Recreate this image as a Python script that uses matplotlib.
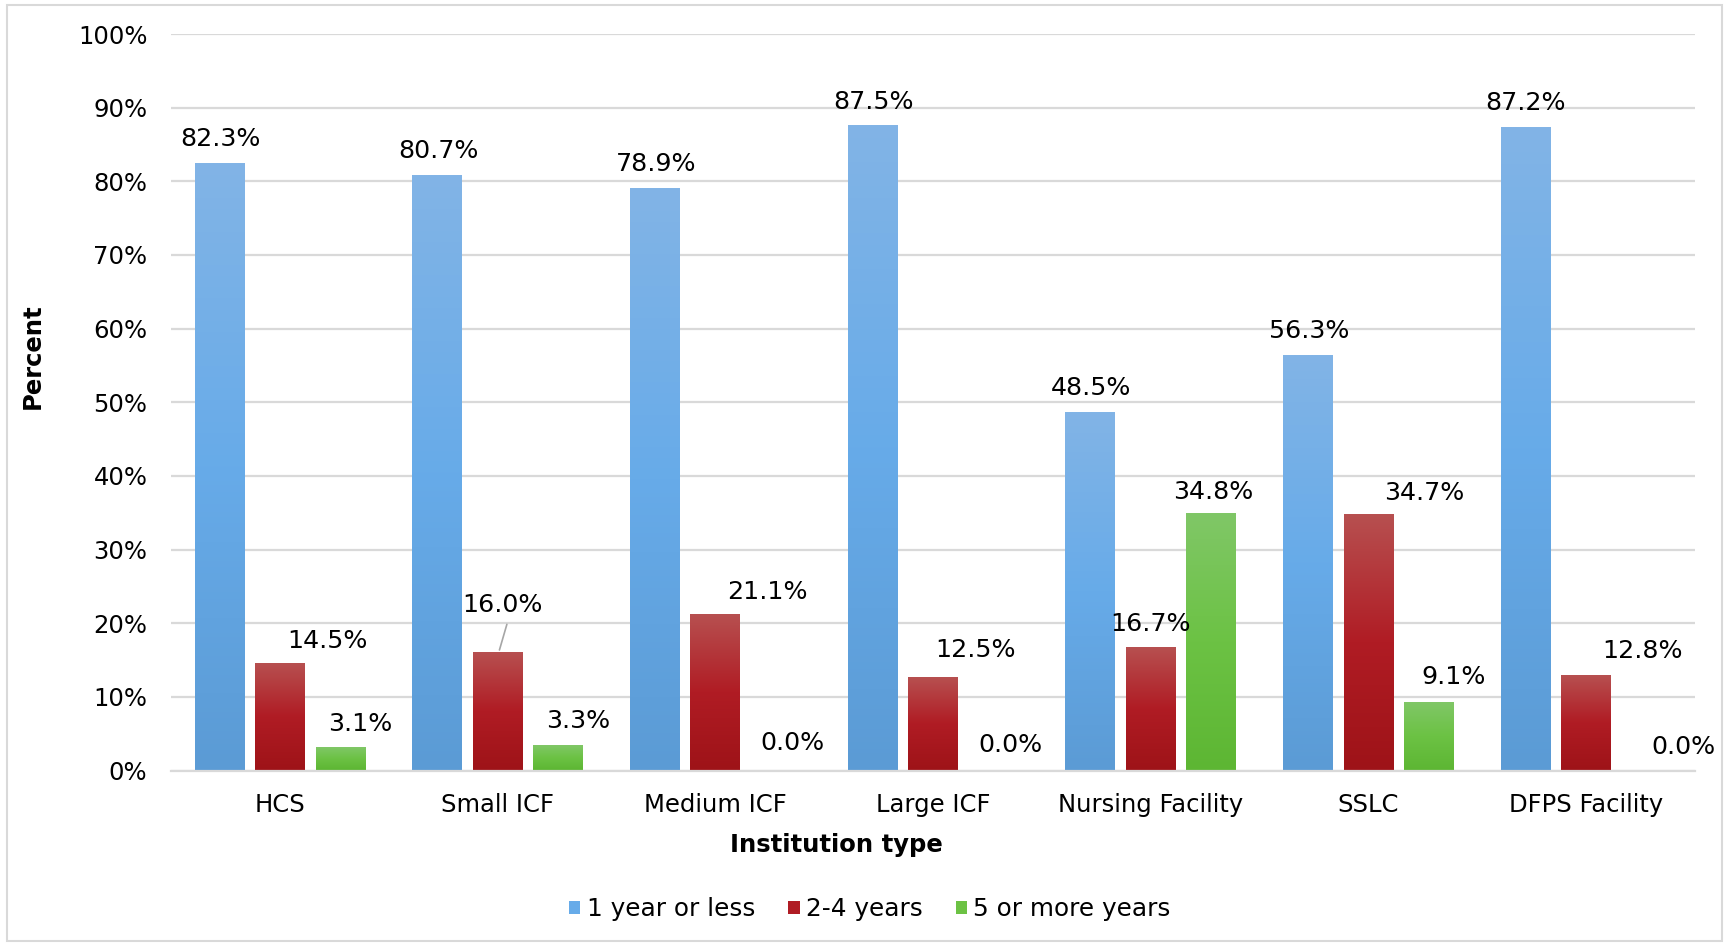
import numpy as np
import matplotlib
matplotlib.use('Agg')
import matplotlib.pyplot as plt
from matplotlib.colors import LinearSegmentedColormap
from matplotlib.patches import Patch, Rectangle

institutions = ['HCS', 'Small ICF', 'Medium ICF', 'Large ICF', 'Nursing Facility', 'SSLC', 'DFPS Facility']
series_names = ['1 year or less', '2-4 years', '5 or more years']
one_year_or_less = [82.3, 80.7, 78.9, 87.5, 48.5, 56.3, 87.2]
two_to_four_years = [14.5, 16.0, 21.1, 12.5, 16.7, 34.7, 12.8]
five_or_more_years = [3.1, 3.3, 0.0, 0.0, 34.8, 9.1, 0.0]

# bottom / middle / top shades for each series
shades = [
    ['#5b9bd5', '#67abe9', '#82b4e6'],
    ['#9e1318', '#b01c24', '#b75050'],
    ['#5db633', '#6cc244', '#80c767'],
]

# label nudges in pixels from the top centre of each bar
label_nudge = [
    [(1, 25), (1, 25), (1, 25), (1, 24), (1, 25), (1, 25), (0, 25)],
    [(48, 23), (5, 48), (52, 23), (43, 28), (0, 24), (56, 22), (56, 25)],
    [(20, 24), (20, 25), (17, 28), (17, 25), (2, 22), (25, 26), (37, 23)],
]

plt.rcParams['font.family'] = 'DejaVu Sans'
plt.rcParams['font.size'] = 17.5

fig = plt.figure(figsize=(17.26, 9.44), dpi=100)
ax = fig.add_axes([171 / 1726, 1 - 770.5 / 944, (1695 - 171) / 1726, (770.5 - 34) / 944])

x = np.arange(len(institutions))
width = 0.228
step = 0.278
all_values = [one_year_or_less, two_to_four_years, five_or_more_years]

for k, vals in enumerate(all_values):
    cmap = LinearSegmentedColormap.from_list('grad%d' % k, shades[k])
    grad = np.linspace(0, 1, 256).reshape(-1, 1)
    offs = (k - 1) * step
    for i, v in enumerate(vals):
        xc = x[i] + offs
        if v > 0:
            ax.imshow(grad, cmap=cmap, origin='lower', aspect='auto',
                      extent=[xc - width / 2, xc + width / 2, 0, v], zorder=2)
        dx, dy = label_nudge[k][i]
        ax.annotate('%.1f%%' % v, xy=(xc, v), xytext=(dx, dy),
                    textcoords='offset pixels', ha='center', va='center',
                    fontsize=18.2, color='black', annotation_clip=False)

# leader line for the Small ICF 2-4 years label
ax.annotate('', xy=(x[1] + 0.005, two_to_four_years[1]), xytext=(9, 31),
            textcoords='offset pixels',
            arrowprops=dict(arrowstyle='-', color='#a6a6a6', lw=1.2))

ax.set_xlim(-0.5, len(institutions) - 0.5)
ax.set_ylim(0, 100)
ax.set_yticks(np.arange(0, 101, 10))
ax.set_yticklabels(['%d%%' % t for t in range(0, 101, 10)])
ax.set_xticks(x)
ax.set_xticklabels(institutions)
ax.tick_params(axis='both', length=0, labelsize=17.5)
ax.tick_params(axis='y', pad=17)
ax.tick_params(axis='x', pad=16)
ax.yaxis.grid(True, color='#d9d9d9', lw=1.6, zorder=0)
ax.set_axisbelow(True)
for side in ['top', 'right', 'left']:
    ax.spines[side].set_visible(False)
ax.spines['bottom'].set_color('#d9d9d9')
ax.spines['bottom'].set_linewidth(1.6)

fig.text(33 / 1726, 1 - 356 / 944, 'Percent', rotation=90, ha='center', va='center',
         fontsize=17.5, fontweight='bold')
fig.text(836 / 1726, 1 - 845 / 944, 'Institution type', ha='center', va='center',
         fontsize=17.5, fontweight='bold')

handles = [Patch(facecolor=shades[k][1], edgecolor='none') for k in range(3)]
fig.legend(handles, series_names, loc='center', bbox_to_anchor=(0.504, 1 - 909 / 944),
           ncol=3, frameon=False, fontsize=17.8, handlelength=0.45, handleheight=0.45,
           handletextpad=0.25, columnspacing=1.35)

# thin frame around the whole chart
fig.patches.append(Rectangle((7 / 1726, 3 / 944), 1715 / 1726, 936 / 944,
                             transform=fig.transFigure, fill=False,
                             edgecolor='#d9d9d9', lw=1.5))

fig.savefig('out.png', dpi=100)
